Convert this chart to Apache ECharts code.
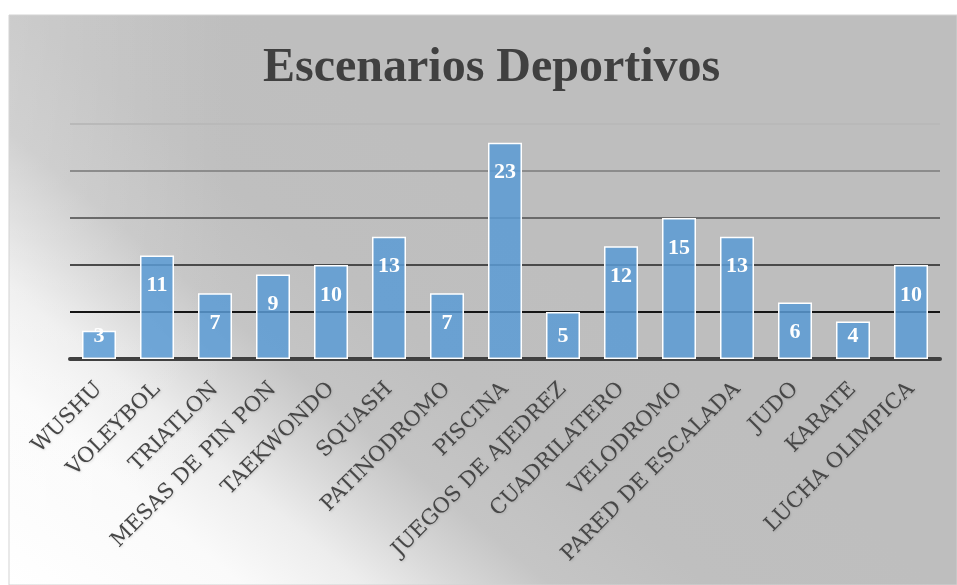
<!DOCTYPE html>
<html><head><meta charset="utf-8">
<script src="https://cdn.jsdelivr.net/npm/echarts@6/dist/echarts.min.js"></script>
<style>html,body{margin:0;padding:0;background:#fff}#c{width:957px;height:585px}</style>
</head><body><div id="c"></div>
<script>
const categories = ['WUSHU','VOLEYBOL','TRIATLON','MESAS DE PIN PON','TAEKWONDO','SQUASH','PATINODROMO','PISCINA','JUEGOS DE AJEDREZ','CUADRILATERO','VELODROMO','PARED DE ESCALADA','JUDO','KARATE','LUCHA OLIMPICA'];
const values = [3,11,7,9,10,13,7,23,5,12,15,13,6,4,10];
const titleText = 'Escenarios Deportivos';

// short bars keep their label resting near the axis (as in the original)
const barData = values.map(v => v <= 5
  ? {value:v, label:{position:'insideBottom', distance:12}}
  : {value:v});

const chart = echarts.init(document.getElementById('c'), null, {renderer:'canvas'});
chart.setOption({
  animation:false,
  backgroundColor:'#ffffff',
  graphic:[
    {type:'rect', z:-10, silent:true, shape:{x:9,y:15,width:948,height:570},
     style:{fill:new echarts.graphic.LinearGradient(9,585,394,125,[
       {offset:0,color:'#ffffff'},{offset:0.25,color:'#fafafa'},{offset:0.38,color:'#ededed'},
       {offset:0.48,color:'#d8d8d8'},{offset:0.58,color:'#c5c5c5'},{offset:0.75,color:'#bfbfbf'},
       {offset:1,color:'#bebebe'}], true)}},
    {type:'rect', z:-9, silent:true, shape:{x:9,y:15,width:948,height:570},
     style:{fill:new echarts.graphic.LinearGradient(9,0,230,0,[
       {offset:0,color:'rgba(255,255,255,0.2)'},{offset:1,color:'rgba(255,255,255,0)'}], true),
       stroke:'#d3d3d3', lineWidth:1}}
  ],
  title:{text:titleText, left:258, top:40,
    textStyle:{fontFamily:'Liberation Serif', fontWeight:'bold', fontSize:48, color:'#404040'}},
  grid:{left:70, right:17, top:124, bottom:226, containLabel:false},
  xAxis:{type:'category', data:categories,
    axisLine:{show:true, lineStyle:{color:'#404040', width:4}},
    axisTick:{show:false},
    axisLabel:{rotate:45, interval:0, margin:27, fontFamily:'DejaVu Serif', fontSize:21, color:'#474747',
      textShadowColor:'rgba(0,0,0,0.12)', textShadowBlur:2, textShadowOffsetX:1, textShadowOffsetY:1}},
  yAxis:{type:'value', min:0, max:25, interval:5,
    axisLabel:{show:false}, axisLine:{show:false}, axisTick:{show:false},
    splitLine:{show:true, lineStyle:{width:2, color:['#404040','#151515','#4a4a4a','#6a6a6a','#8c8c8c','#b9b9b9']}}},
  series:[{type:'bar', data:barData, barWidth:34,
    itemStyle:{color:'rgba(91,155,213,0.85)', borderColor:'#ffffff', borderWidth:1.5},
    label:{show:true, position:'insideTop', distance:19, color:'#ffffff',
      fontFamily:'Liberation Serif', fontWeight:'bold', fontSize:22}}]
});
</script></body></html>
